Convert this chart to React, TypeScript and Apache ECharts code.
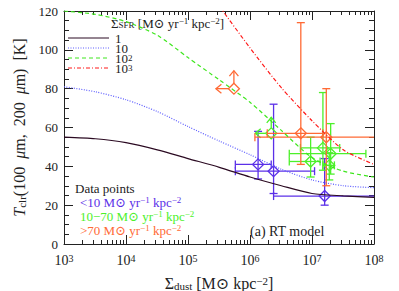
import React, { useEffect, useRef } from 'react';
import * as echarts from 'echarts';

// ---------- data ----------
const sigmaGrid = [1e3, 3.2e3, 1e4, 3.2e4, 1e5, 3.2e5, 1e6, 3.2e6, 1e7, 3.2e7, 1e8];
const tSfr1 = [55, 54.2, 52.2, 48.5, 44, 39.5, 34.5, 30, 26, 24.8, 24];
const tSfr10 = [81, 78.4, 74.3, 68.2, 60.5, 53, 46, 38.5, 33, 30, 29];
const tSfr100 = [120, 118.3, 114.5, 107.5, 96, 84.5, 73, 58.5, 44.5, 37.5, 34.5];
const sigmaGridHigh = [3.2e5, 1e6, 3.2e6, 1e7, 3.2e7, 1e8];
const tSfr1000 = [122.5, 101, 80.5, 63.5, 48.5, 41];

// data points <10
const lowX = [1.35e6, 2.4e6, 1.6e7];
const lowT = [41, 37.5, 24.7];
const lowXlo = [5.8e5, 5.8e5, 2.4e6];
const lowXhi = [2.2e6, 1.1e7, 2e8];
const lowTlo = [33.5, 26, 20];
const lowThi = [58, 72, 44];

// data points 10-70
const midX = [1.5e7, 2.0e7, 9.5e6, 1.9e7];
const midT = [49.5, 46.5, 42.5, 40.5];
const midXlo = [6.5e6, 4.3e6, 4.3e6, 1.5e7];
const midXhi = [2.8e7, 7.4e7, 1.35e7, 2.3e7];
const midTlo = [38, 36, 34.5, 33];
const midThi = [78, 62, 55, 47];
const midLimX = [2.2e6];
const midLimT = [57];

// data points >70
const highX = [6.6e6, 1.7e7];
const highT = [57, 55];
const highXlo = [1.9e6, 1.2e6];
const highXhi = [1.5e7, 2e8];
const highTlo = [41, 30];
const highThi = [114, 80];
const highLimX = [5.5e5];
const highLimT = [80];

const xMajorTicks = [1e3, 1e4, 1e5, 1e6, 1e7, 1e8];
const xMinorTicks = [3, 4, 5, 6, 7].flatMap((e) => [2, 3, 4, 5, 6, 7, 8, 9].map((m) => m * Math.pow(10, e)));

// ---------- styles ----------
const F = '"Liberation Serif", "DejaVu Serif", serif';
const C_BLACK = '#2b0a22';
const C_BLUE_L = '#5c5cff';
const C_GREEN_L = '#3ee61e';
const C_RED_L = '#ff1a1a';
const C_BLUE = '#5b30e8';
const C_GREEN = '#4cf02a';
const C_ORANGE = '#ff6a35';
const AX = '#222';

function mkRich(color: string, size: number, lh?: number) {
  const s = Math.round(size * 0.68);
  const extra: any = lh ? { lineHeight: lh } : {};
  return {
    n: { fontSize: size, fontFamily: F, color, fill: color, ...extra },
    i: { fontSize: size, fontFamily: F, fontStyle: 'italic', color, fill: color, ...extra },
    sup: { fontSize: s, fontFamily: F, color, fill: color, verticalAlign: 'top', ...extra },
    sub: { fontSize: s, fontFamily: F, color, fill: color, verticalAlign: 'bottom', ...extra },
  };
}

function rows(...cols: number[][]) {
  return cols[0].map((_, i) => cols.map((c) => c[i]));
}

function errRender(color: string) {
  return (params: any, api: any) => {
    const x = api.value(0), y = api.value(1);
    const p = api.coord([x, y]);
    const xl = api.coord([api.value(2), y]);
    const xh = api.coord([api.value(3), y]);
    const yl = api.coord([x, api.value(4)]);
    const yh = api.coord([x, api.value(5)]);
    const cap = 4;
    const st = { stroke: color, lineWidth: 1.3, fill: 'none' };
    const L = (x1: number, y1: number, x2: number, y2: number) => ({ type: 'line', shape: { x1, y1, x2, y2 }, style: st });
    const d = 5.5;
    return {
      type: 'group',
      children: [
        L(xl[0], p[1], xh[0], p[1]),
        L(xl[0], p[1] - cap, xl[0], p[1] + cap),
        L(xh[0], p[1] - cap, xh[0], p[1] + cap),
        L(p[0], yl[1], p[0], yh[1]),
        L(p[0] - cap, yl[1], p[0] + cap, yl[1]),
        L(p[0] - cap, yh[1], p[0] + cap, yh[1]),
        { type: 'polygon', shape: { points: [[p[0], p[1] - d], [p[0] + d, p[1]], [p[0], p[1] + d], [p[0] - d, p[1]]] }, style: { stroke: color, fill: 'none', lineWidth: 1.3 } },
      ],
    };
  };
}

function limRender(color: string, len: number) {
  return (params: any, api: any) => {
    const p = api.coord([api.value(0), api.value(1)]);
    const st = { stroke: color, lineWidth: 1.3, fill: 'none' };
    const d = 5.5, h = 4.5;
    return {
      type: 'group',
      children: [
        { type: 'line', shape: { x1: p[0], y1: p[1] - d, x2: p[0], y2: p[1] - len }, style: st },
        { type: 'polyline', shape: { points: [[p[0] - h, p[1] - len + h + 1], [p[0], p[1] - len], [p[0] + h, p[1] - len + h + 1]] }, style: st },
        { type: 'line', shape: { x1: p[0] - d, y1: p[1], x2: p[0] - len, y2: p[1] }, style: st },
        { type: 'polyline', shape: { points: [[p[0] - len + h + 1, p[1] - h], [p[0] - len, p[1]], [p[0] - len + h + 1, p[1] + h]] }, style: st },
        { type: 'polygon', shape: { points: [[p[0], p[1] - d], [p[0] + d, p[1]], [p[0], p[1] + d], [p[0] - d, p[1]]] }, style: { stroke: color, fill: 'none', lineWidth: 1.3 } },
      ],
    };
  };
}

function gText(x: number, y: number, text: string, color: string, size: number, lh?: number) {
  return {
    type: 'text',
    x, y,
    style: {
      text,
      rich: mkRich(color, size, lh),
      fill: color,
      font: `${size}px ${F}`,
      align: 'left', textAlign: 'left',
      verticalAlign: 'middle', textVerticalAlign: 'middle',
    },
  };
}

function gLine(y: number, color: string, dash: any) {
  return {
    type: 'line',
    shape: { x1: 68, y1: y, x2: 109, y2: y },
    style: { stroke: color, lineWidth: 1, lineDash: dash },
  };
}

const xBase = (position: string, ticks: number[], len: number, showLine: boolean, showLabel: boolean) => ({
  type: 'log',
  logBase: 10,
  min: 1e3,
  max: 1e8,
  position,
  gridIndex: 0,
  axisLine: { show: showLine, onZero: false, lineStyle: { color: AX, width: 1 } },
  axisTick: { show: true, inside: true, length: len, customValues: ticks, lineStyle: { color: AX, width: 1 } },
  axisLabel: showLabel
    ? {
        show: true,
        margin: 9,
        customValues: xMajorTicks,
        formatter: (v: number) => `{b|10}{s|${Math.round(Math.log10(v))}}`,
        rich: {
          b: { fontSize: 14, fontFamily: F, color: AX },
          s: { fontSize: 10, fontFamily: F, color: AX, verticalAlign: 'top' },
        },
      }
    : { show: false },
  splitLine: { show: false },
  minorTick: { show: false },
});

const yBase = (position: string, showLabel: boolean) => ({
  type: 'value',
  min: 0,
  max: 120,
  interval: 20,
  position,
  axisLine: { show: true, onZero: false, lineStyle: { color: AX, width: 1 } },
  axisTick: { show: true, inside: true, length: 9, lineStyle: { color: AX } },
  minorTick: { show: true, splitNumber: 4, length: 5, lineStyle: { color: AX } },
  axisLabel: showLabel ? { show: true, fontSize: 13, fontFamily: F, color: AX, margin: 6 } : { show: false },
  splitLine: { show: false },
});

export default function App() {
  const ref = useRef<HTMLDivElement>(null);
  useEffect(() => {
    if (!ref.current) return;
    const chart = echarts.init(ref.current, null, { renderer: 'svg' });
    const yTitleRich = mkRich(AX, 16);
    const xTitleRich = mkRich(AX, 16);
    const option: any = {
      animation: false,
      backgroundColor: '#fff',
      grid: { left: 64, right: 25, top: 11, bottom: 47, containLabel: false, outerBoundsMode: 'none' },
      xAxis: [
        {
          ...xBase('bottom', xMajorTicks, 9, true, true),
          name: '{n|Σ}{sub|dust}{n| [M⊙ kpc}{sup|−2}{n|]}',
          nameLocation: 'middle',
          nameGap: 31,
          nameTextStyle: { rich: xTitleRich, fontFamily: F, fontSize: 16, color: AX },
        },
        xBase('bottom', xMinorTicks, 4, false, false),
        xBase('top', xMajorTicks, 9, true, false),
        xBase('top', xMinorTicks, 4, false, false),
      ],
      yAxis: [
        {
          ...yBase('left', true),
          name: '{i|T}{sub|clr}{n|(100  }{i|μ}{n|m,  200  }{i|μ}{n|m)  [K]}',
          nameLocation: 'middle',
          nameGap: 37,
          nameRotate: 90,
          nameTextStyle: { rich: yTitleRich, fontFamily: F, fontSize: 16, color: AX },
        },
        yBase('right', false),
      ],
      series: [
        {
          type: 'line', xAxisIndex: 0, yAxisIndex: 0, showSymbol: false, smooth: 0.25, clip: true,
          data: rows(sigmaGrid, tSfr1),
          lineStyle: { color: C_BLACK, width: 1.2 },
        },
        {
          type: 'line', xAxisIndex: 0, yAxisIndex: 0, showSymbol: false, smooth: 0.25, clip: true,
          data: rows(sigmaGrid, tSfr10),
          lineStyle: { color: C_BLUE_L, width: 1.2, type: [1, 1.5] },
        },
        {
          type: 'line', xAxisIndex: 0, yAxisIndex: 0, showSymbol: false, smooth: 0.25, clip: true,
          data: rows(sigmaGrid, tSfr100),
          lineStyle: { color: C_GREEN_L, width: 1.2, type: [4, 3] },
        },
        {
          type: 'line', xAxisIndex: 0, yAxisIndex: 0, showSymbol: false, smooth: 0.25, clip: true,
          data: rows(sigmaGridHigh, tSfr1000),
          lineStyle: { color: C_RED_L, width: 1.2, type: [4, 2, 1, 2] },
        },
        {
          type: 'custom', xAxisIndex: 0, yAxisIndex: 0, clip: true,
          renderItem: errRender(C_BLUE), encode: { x: 0, y: 1 },
          data: rows(lowX, lowT, lowXlo, lowXhi, lowTlo, lowThi),
        },
        {
          type: 'custom', xAxisIndex: 0, yAxisIndex: 0, clip: true,
          renderItem: errRender(C_GREEN), encode: { x: 0, y: 1 },
          data: rows(midX, midT, midXlo, midXhi, midTlo, midThi),
        },
        {
          type: 'custom', xAxisIndex: 0, yAxisIndex: 0, clip: true,
          renderItem: limRender(C_GREEN, 16), encode: { x: 0, y: 1 },
          data: rows(midLimX, midLimT),
        },
        {
          type: 'custom', xAxisIndex: 0, yAxisIndex: 0, clip: true,
          renderItem: errRender(C_ORANGE), encode: { x: 0, y: 1 },
          data: rows(highX, highT, highXlo, highXhi, highTlo, highThi),
        },
        {
          type: 'custom', xAxisIndex: 0, yAxisIndex: 0, clip: true,
          renderItem: limRender(C_ORANGE, 18), encode: { x: 0, y: 1 },
          data: rows(highLimX, highLimT),
        },
      ],
      graphic: [
        gText(111, 23, '{n|Σ}{sub|SFR}{n| [M⊙ yr}{sup|−1}{n| kpc}{sup|−2}{n|]}', AX, 13),
        gLine(38, C_BLACK, null),
        gLine(48, C_BLUE_L, [1, 1.5]),
        gLine(58, C_GREEN_L, [4, 3]),
        gLine(68, C_RED_L, [4, 2, 1, 2]),
        gText(115, 38, '{n|1}', AX, 13, 10),
        gText(115, 48, '{n|10}', AX, 13, 10),
        gText(115, 58, '{n|10}{sup|2}', AX, 13, 10),
        gText(115, 68, '{n|10}{sup|3}', AX, 13, 10),
        gText(75, 188, '{n|Data points}', AX, 13),
        gText(80, 202, '{n|<10 M⊙ yr}{sup|−1}{n| kpc}{sup|−2}', C_BLUE, 13, 13),
        gText(80, 216, '{n|10−70 M⊙ yr}{sup|−1}{n| kpc}{sup|−2}', C_GREEN, 13, 13),
        gText(80, 230, '{n|>70 M⊙ yr}{sup|−1}{n| kpc}{sup|−2}', C_ORANGE, 13, 13),
        gText(250, 231, '{n|(a) RT model}', AX, 14),
      ],
    };
    chart.setOption(option);
    return () => chart.dispose();
  }, []);
  return <div ref={ref} style={{ position: 'absolute', left: 0, top: 0, width: 399, height: 291, background: '#fff' }} />;
}
